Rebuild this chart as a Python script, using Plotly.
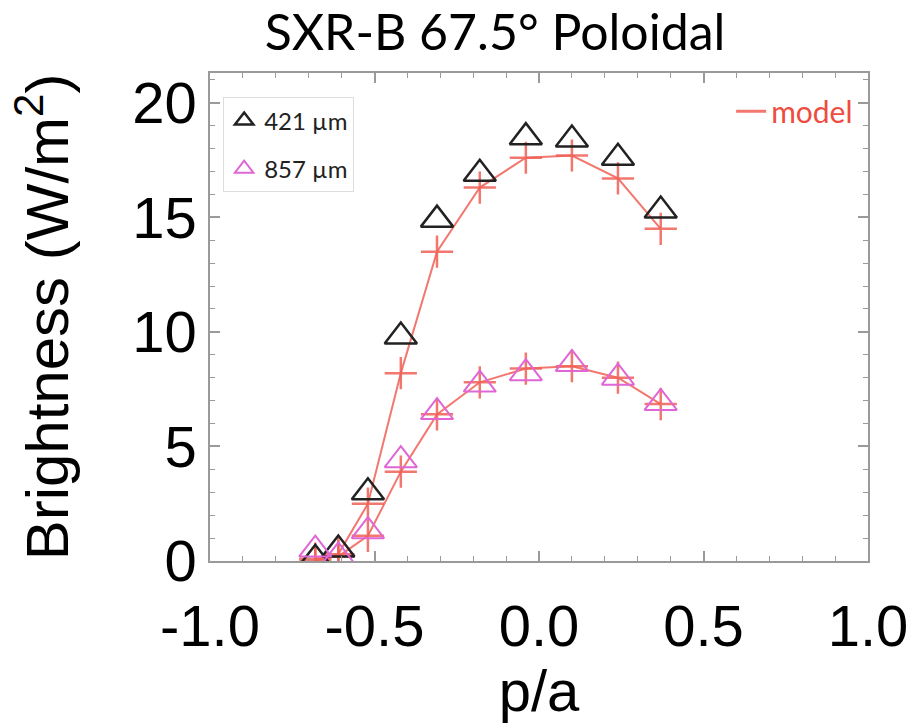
import plotly.graph_objects as go

# Positions (p/a) of the chords
pa = [-0.68, -0.61, -0.52, -0.42, -0.31, -0.18, -0.04, 0.10, 0.24, 0.37]

# Measured brightness (W/m^2)
b421 = [0.1, 0.5, 3.0, 9.8, 14.9, 16.9, 18.5, 18.4, 17.6, 15.3]
b857 = [0.5, 0.2, 1.3, 4.4, 6.5, 7.7, 8.2, 8.6, 8.0, 6.9]

# Model brightness
m421 = [0.0, 0.3, 2.5, 8.2, 13.5, 16.3, 17.6, 17.7, 16.7, 14.5]
m857 = [0.1, 0.2, 1.1, 3.9, 6.4, 7.8, 8.4, 8.5, 8.0, 6.85]

xticks = [-1.0, -0.5, 0.0, 0.5, 1.0]
xticklabels = ["-1.0", "-0.5", "0.0", "0.5", "1.0"]
yticks = [0, 5, 10, 15, 20]

LINE_RED = "rgba(240,95,85,0.85)"
CROSS_RED = "#e8382e"
PINK = "#e066d6"

fig = go.Figure()

for mvals in (m421, m857):
    fig.add_trace(go.Scatter(
        x=pa, y=mvals, mode="lines+markers", showlegend=False,
        line=dict(color=LINE_RED, width=2),
        marker=dict(symbol="cross-thin-open", size=23,
                    line=dict(color=CROSS_RED, width=2.5)),
    ))

fig.add_trace(go.Scatter(
    x=pa, y=b421, mode="markers", name="421 µm", legend="legend",
    legendgroup="a",
    marker=dict(symbol="triangle-up-open", size=28, color="#222222",
                line=dict(color="#222222", width=2.5)),
))
fig.add_trace(go.Scatter(
    x=pa, y=b857, mode="markers", name="857 µm", legend="legend",
    legendgroup="b",
    marker=dict(symbol="triangle-up-open", size=28, color=PINK,
                line=dict(color=PINK, width=2)),
))
fig.add_trace(go.Scatter(
    x=[None], y=[None], mode="lines", name="model", legend="legend2",
    line=dict(color=LINE_RED, width=3),
))

axis_common = dict(
    showline=True, linecolor="#9a9a9a", linewidth=1.5, mirror="allticks",
    ticks="inside", ticklen=10, tickwidth=1.5, tickcolor="#9a9a9a",
    showgrid=False, zeroline=False,
    tickfont=dict(family="Liberation Sans, Arial", size=58, color="black"),
)

fig.update_layout(
    width=919, height=725,
    margin=dict(l=210, r=51, t=73, b=164),
    paper_bgcolor="white", plot_bgcolor="white",
    title=dict(text="SXR-B 67.5° Poloidal", x=495/919, xanchor="center",
               y=1 - 32/725, yanchor="middle",
               font=dict(family="Lato, Open Sans", size=50, color="black")),
    xaxis=dict(range=[-1, 1], tickvals=xticks, ticktext=xticklabels,
               ticklabelstandoff=14,
               minor=dict(dtick=0.1, ticks="inside", ticklen=5,
                          tickcolor="#9a9a9a", tickwidth=1.2),
               title=dict(text="p/a", standoff=12,
                          font=dict(family="Liberation Sans, Arial", size=58,
                                    color="black")),
               **axis_common),
    yaxis=dict(range=[0, 21.3], tickvals=yticks,
               minor=dict(dtick=1, ticks="inside", ticklen=5,
                          tickcolor="#9a9a9a", tickwidth=1.2),
               title=dict(text="Brightness (W/m<sup>2</sup>)", standoff=44,
                          font=dict(family="Liberation Sans, Arial", size=60,
                                    color="black")),
               **axis_common),
    legend=dict(x=0.02, y=0.95, xanchor="left", yanchor="top",
                bgcolor="rgba(255,255,255,0.9)", bordercolor="#dddddd",
                borderwidth=1, itemsizing="trace", traceorder="grouped",
                tracegroupgap=14,
                font=dict(family="Lato, Open Sans", size=24, color="#222222")),
    legend2=dict(x=0.985, y=0.975, xanchor="right", yanchor="top",
                 bgcolor="rgba(0,0,0,0)",
                 font=dict(family="Lato, Open Sans", size=30, color="#ee4c40")),
)

fig.write_html("out.html")
